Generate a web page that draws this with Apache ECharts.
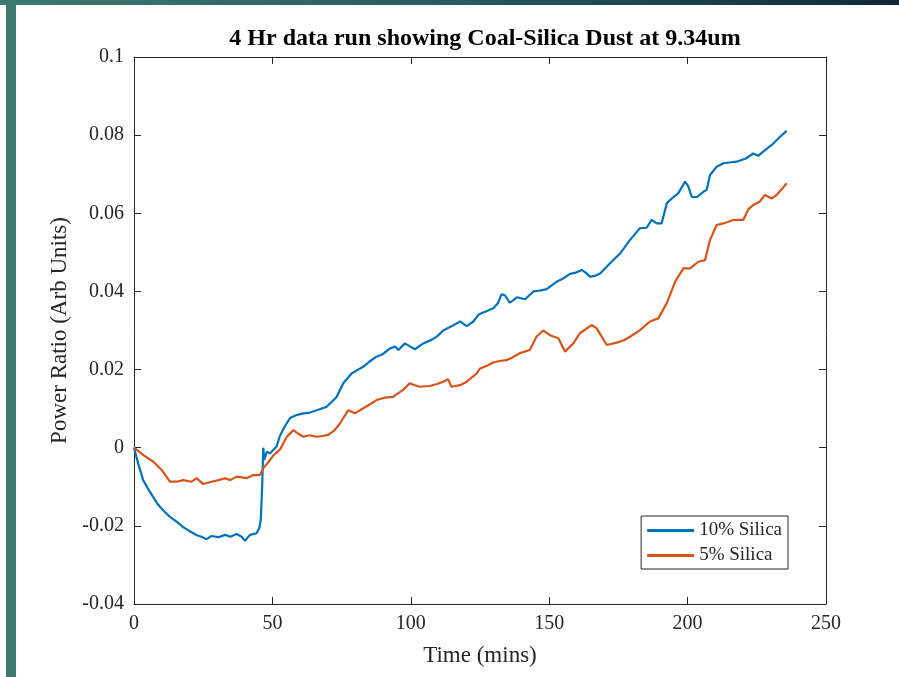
<!DOCTYPE html>
<html><head><meta charset="utf-8">
<script src="https://cdn.jsdelivr.net/npm/echarts@6/dist/echarts.min.js"></script>
<style>html,body{margin:0;padding:0;background:#fff}#c{width:899px;height:677px}</style>
</head><body><div id="c"></div>
<script>
const titleText = '4 Hr data run showing Coal-Silica Dust at 9.34um';
const seriesNames = ['10% Silica', '5% Silica'];
const xTicks = [0, 50, 100, 150, 200, 250];
const yTicks = [-0.04, -0.02, 0, 0.02, 0.04, 0.06, 0.08, 0.1];

const silica10 = [
[0,0],[1.5,-0.004],[3.3,-0.0083],[5.5,-0.011],[8.3,-0.0142],[10.5,-0.016],[13,-0.0177],[15.5,-0.019],[17.7,-0.0203],[20,-0.0213],
[22.7,-0.0224],[24.4,-0.0228],[26.2,-0.0234],[28,-0.0226],[30.5,-0.0229],[32.9,-0.0223],[34.7,-0.0228],[37.1,-0.0221],[38.9,-0.0228],[40.1,-0.0238],
[41.9,-0.0223],[44.3,-0.0219],[45.3,-0.0205],[45.8,-0.0185],[46.3,-0.010],[46.7,0],[47.1,-0.0031],[48,-0.001],[49.1,-0.0015],[50.3,-0.0006],
[51.5,0.0003],[52.7,0.003],[54.5,0.0055],[56.4,0.0076],[58.5,0.0083],[61.2,0.0088],[63.5,0.009],[66,0.0096],[69.6,0.0105],[73.2,0.013],
[75.6,0.0165],[78.6,0.019],[80.5,0.0198],[82.8,0.0207],[85,0.022],[87.6,0.0233],[90,0.024],[92.5,0.0254],[94.3,0.0259],[95.5,0.025],
[97.9,0.0267],[99.5,0.026],[101.5,0.0252],[104.5,0.0267],[107.5,0.0276],[109.5,0.0285],[111.7,0.030],[114.5,0.031],[117.8,0.0323],[120.2,0.0311],
[122.6,0.0323],[124.4,0.034],[125.5,0.0344],[127.5,0.035],[129.8,0.0357],[131.5,0.037],[132.8,0.0393],[134,0.039],[135.8,0.0371],[138.3,0.0385],
[141.3,0.038],[144.3,0.04],[146.5,0.0402],[149.1,0.0406],[152.7,0.0425],[155,0.0433],[157.5,0.0445],[159.5,0.0448],[161.7,0.0455],[163.2,0.0448],
[164.7,0.0438],[166.5,0.044],[168.4,0.0446],[172,0.0472],[175.6,0.0497],[179.2,0.0532],[182.8,0.0562],[185.2,0.0563],[187,0.0583],[188.8,0.0574],
[190.6,0.0574],[192.5,0.0626],[194.3,0.0638],[196.6,0.0651],[199.1,0.0681],[200.3,0.0668],[201.5,0.0642],[203.3,0.0641],[205.7,0.0655],[206.9,0.066],
[208.1,0.0698],[210.5,0.0719],[212.9,0.0728],[215,0.073],[217.7,0.0732],[221.3,0.0741],[223.7,0.0753],[225.5,0.0747],[227.3,0.0758],[230.4,0.0775],
[233.4,0.0796],[235.8,0.0811]
];

const silica5 = [
[0,0],[3.4,-0.0019],[7,-0.0036],[10,-0.0057],[13,-0.0087],[15.4,-0.0087],[17.8,-0.0083],[20.8,-0.0087],[22.6,-0.0078],[25,-0.0093],
[28,-0.0087],[30.5,-0.0083],[32.9,-0.0078],[34.7,-0.0083],[37.1,-0.0074],[40.7,-0.0078],[43.1,-0.007],[45.5,-0.007],[46.7,-0.0053],[49.1,-0.0032],
[50.3,-0.002],[52.7,-0.0005],[55.2,0.0028],[57.6,0.0045],[59.5,0.0035],[61.2,0.0028],[63.5,0.0032],[66,0.0028],[68,0.003],[70.2,0.0033],
[72.5,0.0045],[74.4,0.0062],[77.4,0.0096],[79.8,0.0088],[82.8,0.0101],[85,0.011],[87.6,0.0122],[90.5,0.0128],[93.6,0.013],[97.2,0.0148],
[99.6,0.0165],[101.5,0.016],[103.2,0.0156],[106.8,0.0158],[109.5,0.0163],[111.7,0.0169],[113.5,0.0175],[114.7,0.0156],[117.8,0.016],[120.2,0.0169],
[123.8,0.019],[125,0.0203],[127.5,0.021],[129.8,0.0218],[132,0.0222],[134.6,0.0224],[137,0.0232],[139.4,0.0242],[143,0.025],[145.4,0.0284],
[147.8,0.03],[150.3,0.0288],[153.3,0.028],[155.7,0.0246],[158.7,0.0267],[161.1,0.0293],[163.5,0.0305],[165.3,0.0314],[167.1,0.0306],[170.8,0.0263],
[174.4,0.0269],[177,0.0275],[179.2,0.0284],[182.8,0.0301],[186.4,0.0323],[189.4,0.0331],[192.5,0.037],[195.5,0.0425],[198.5,0.0459],[200.9,0.0459],
[203.9,0.0476],[206.3,0.048],[208.1,0.0532],[210.5,0.057],[212.9,0.0574],[216.5,0.0583],[220.1,0.0583],[221.9,0.061],[223.7,0.0621],[226.1,0.063],
[227.9,0.0647],[230.4,0.0638],[232.2,0.0647],[235.8,0.0677]
];

const font = 'Liberation Serif';
const axisColor = '#262626';
const chart = echarts.init(document.getElementById('c'), null, {renderer: 'canvas'});

const baseAxis = {
  axisLine: {show: true, onZero: false, lineStyle: {color: axisColor, width: 1}},
  axisTick: {show: true, inside: true, length: 7, lineStyle: {color: axisColor}},
  splitLine: {show: false}
};

chart.setOption({
  backgroundColor: '#ffffff',
  animation: false,
  title: {
    text: titleText, left: 480, top: 22, textAlign: 'center',
    textStyle: {fontFamily: font, fontWeight: 'bold', fontSize: 24, color: '#000'}
  },
  grid: {left: 134, right: 73, top: 57, bottom: 73, containLabel: false},
  legend: {
    orient: 'vertical', right: 111, top: 516,
    data: seriesNames,
    icon: 'rect', itemWidth: 47, itemHeight: 3, itemGap: 6,
    padding: [5, 6, 4, 6],
    borderColor: '#262626', borderWidth: 1, backgroundColor: '#fff',
    textStyle: {fontFamily: font, fontSize: 19, color: '#262626'}
  },
  xAxis: [
    Object.assign({}, baseAxis, {
      type: 'value', min: xTicks[0], max: xTicks[xTicks.length - 1], interval: 50,
      name: 'Time (mins)', nameLocation: 'middle', nameGap: 40,
      nameTextStyle: {fontFamily: font, fontSize: 23, color: axisColor},
      axisLabel: {fontFamily: font, fontSize: 20, color: axisColor, margin: 10}
    }),
    Object.assign({}, baseAxis, {
      type: 'value', position: 'top', min: xTicks[0], max: xTicks[xTicks.length - 1], interval: 50,
      axisLabel: {show: false}
    })
  ],
  yAxis: [
    Object.assign({}, baseAxis, {
      type: 'value', min: yTicks[0], max: yTicks[yTicks.length - 1], interval: 0.02,
      name: 'Power Ratio (Arb Units)', nameLocation: 'middle', nameGap: 62,
      nameTextStyle: {fontFamily: font, fontSize: 23, color: axisColor},
      axisLabel: {fontFamily: font, fontSize: 20, color: axisColor, margin: 10,
        formatter: v => String(Math.round(v * 100) / 100)}
    }),
    Object.assign({}, baseAxis, {
      type: 'value', position: 'right', min: yTicks[0], max: yTicks[yTicks.length - 1], interval: 0.02,
      axisLabel: {show: false}
    })
  ],
  series: [
    {name: seriesNames[0], type: 'line', data: silica10, showSymbol: false, symbol: 'none',
     lineStyle: {color: '#0072BD', width: 2.2}, itemStyle: {color: '#0072BD'}},
    {name: seriesNames[1], type: 'line', data: silica5, showSymbol: false, symbol: 'none',
     lineStyle: {color: '#D95319', width: 2.2}, itemStyle: {color: '#D95319'}}
  ],
  graphic: [
    {type: 'rect', left: 0, top: 0, shape: {width: 899, height: 5}, silent: true,
     style: {fill: new echarts.graphic.LinearGradient(0, 0, 1, 0, [
       {offset: 0, color: '#3c7a6e'}, {offset: 0.5, color: '#2a5a60'}, {offset: 1, color: '#10293a'}])}},
    {type: 'rect', left: 6, top: 0, shape: {width: 10, height: 677}, silent: true,
     style: {fill: '#3d7a6d'}}
  ]
});
</script></body></html>
